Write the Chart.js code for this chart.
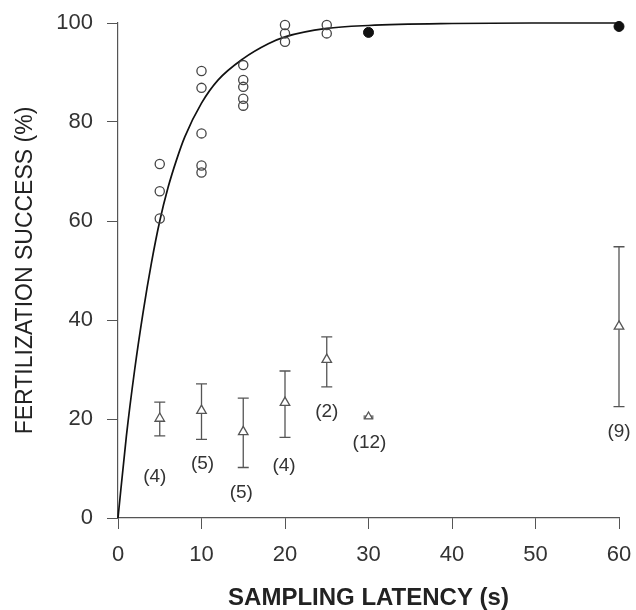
<!DOCTYPE html>
<html><head><meta charset="utf-8">
<script src="https://cdn.jsdelivr.net/npm/chart.js@4/dist/chart.umd.min.js"></script>
<style>html,body{margin:0;padding:0;background:#fff}#wrap{width:636px;height:610px}</style>
</head><body><div id="wrap"><canvas id="c" width="636" height="610"></canvas></div>
<script>
// Fitted curve
const curveX = [0, 1, 2, 3, 4, 5, 6, 7, 8, 10, 12, 15, 18, 20, 25, 30, 40, 50, 60];
const curveY = [0, 16.5, 30, 41.5, 51.5, 60, 66.8, 72.3, 77, 83.8, 88.5, 92.8, 95.8, 97.2, 98.9, 99.5, 99.9, 100, 100];
// Open circles: individual trials
const openX = [5, 5, 5, 10, 10, 10, 10, 10, 15, 15, 15, 15, 15, 20, 20, 20, 25, 25];
const openY = [71.5, 66, 60.5, 90.3, 86.9, 77.7, 71.2, 69.8, 91.5, 88.5, 87.1, 84.7, 83.3, 99.6, 97.9, 96.2, 99.6, 97.9];
// Filled circles
const filledX = [30, 60];
const filledY = [98.1, 99.3];
// Triangles: means with error bars
const triX = [5, 10, 15, 20, 25, 30, 60];
const triY = [20.1, 21.7, 17.4, 23.3, 32, 20.5, 38.7];
const triHi = [23.4, 27.1, 24.2, 29.7, 36.6, 20.6, 54.8];
const triLo = [16.6, 15.9, 10.2, 16.3, 26.5, 20.2, 22.5];
const triN = ['(4)', '(5)', '(5)', '(4)', '(2)', '(12)', '(9)'];
// Tick values
const xTicks = [0, 10, 20, 30, 40, 50, 60];
const yTicks = [0, 20, 40, 60, 80, 100];

const labelDy = [41, 24, 25, 28, 25, 25, 25];
const labelDx = [-5, 1, -2, -1, 0, 1, 0];

const FONT = "'Liberation Sans', Arial, Helvetica, sans-serif";

const errPlugin = {
  id: 'errbars',
  beforeDatasetsDraw(chart) {
    const ctx = chart.ctx, xs = chart.scales.x, ys = chart.scales.y;
    ctx.save();
    ctx.strokeStyle = '#555';
    ctx.lineWidth = 1.3;
    for (let i = 0; i < triX.length; i++) {
      const px = xs.getPixelForValue(triX[i]);
      const ph = ys.getPixelForValue(triHi[i]);
      const pl = ys.getPixelForValue(triLo[i]);
      const cw = triHi[i] - triLo[i] < 2 ? 5 : 5.5;
      ctx.beginPath();
      ctx.moveTo(px, ph); ctx.lineTo(px, pl);
      ctx.moveTo(px - cw, ph); ctx.lineTo(px + cw, ph);
      ctx.moveTo(px - cw, pl); ctx.lineTo(px + cw, pl);
      ctx.stroke();
    }
    ctx.restore();
  },
  afterDatasetsDraw(chart) {
    const ctx = chart.ctx, xs = chart.scales.x, ys = chart.scales.y;
    ctx.save();
    ctx.fillStyle = '#333';
    ctx.font = '19px ' + FONT;
    ctx.textAlign = 'center';
    ctx.textBaseline = 'middle';
    for (let i = 0; i < triX.length; i++) {
      const px = xs.getPixelForValue(triX[i]);
      const pl = ys.getPixelForValue(triLo[i]);
      ctx.fillText(triN[i], px + labelDx[i], pl + labelDy[i]);
    }
    ctx.restore();
  }
};

new Chart(document.getElementById('c'), {
  type: 'scatter',
  data: {
    datasets: [
      { type: 'line', data: curveX.map((x, i) => ({x, y: curveY[i]})), borderColor: '#111', borderWidth: 1.7,
        pointRadius: 0, cubicInterpolationMode: 'monotone', fill: false, order: 3 },
      { data: openX.map((x, i) => ({x, y: openY[i]})), pointStyle: 'circle', pointRadius: 4.6,
        borderColor: '#444', backgroundColor: 'rgba(0,0,0,0)', pointBorderWidth: 1.3, order: 2 },
      { data: filledX.map((x, i) => ({x, y: filledY[i]})), pointStyle: 'circle', pointRadius: 5,
        borderColor: '#111', backgroundColor: '#111', order: 1 },
      { data: triX.map((x, i) => ({x, y: triY[i]})), pointStyle: 'triangle',
        pointRadius: triX.map((x, i) => triHi[i] - triLo[i] < 2 ? 4.5 : 5.5),
        borderColor: '#555', backgroundColor: '#fff', pointBorderWidth: 1.3, order: 0 }
    ]
  },
  plugins: [errPlugin],
  options: {
    responsive: false,
    animation: false,
    events: [],
    layout: { padding: { left: 0, right: 17, top: 23, bottom: 0 } },
    plugins: { legend: { display: false }, tooltip: { enabled: false } },
    clip: false,
    scales: {
      x: {
        type: 'linear', min: 0, max: 60,
        afterBuildTicks: s => { s.ticks = xTicks.map(v => ({value: v})); },
        afterFit: s => { s.height = 92; s.paddingLeft = 0; s.paddingRight = 0; },
        grid: { drawOnChartArea: false, drawTicks: true, tickLength: 11, color: '#555', lineWidth: 1 },
        border: { display: true, color: '#555', width: 1.2 },
        ticks: { color: '#333', font: { family: FONT, size: 22 }, padding: 13, maxRotation: 0 },
        title: { display: true, text: 'SAMPLING LATENCY (s)', color: '#222',
          font: { family: FONT, size: 24, weight: 'bold', lineHeight: 1 }, padding: { top: 0, bottom: 0 } }
      },
      y: {
        type: 'linear', min: 0, max: 100,
        afterBuildTicks: s => { s.ticks = yTicks.map(v => ({value: v})); },
        afterFit: s => { s.width = 118; s.paddingTop = 0; s.paddingBottom = 0; },
        grid: { drawOnChartArea: false, drawTicks: true, tickLength: 11, color: '#555', lineWidth: 1 },
        border: { display: true, color: '#555', width: 1.2 },
        ticks: { color: '#333', font: { family: FONT, size: 22 }, padding: 14 },
        title: { display: true, text: 'FERTILIZATION SUCCESS (%)', color: '#222',
          font: { family: FONT, size: 23, lineHeight: 1.2 }, padding: { top: 12, bottom: 0 } }
      }
    }
  }
});
</script></body></html>
